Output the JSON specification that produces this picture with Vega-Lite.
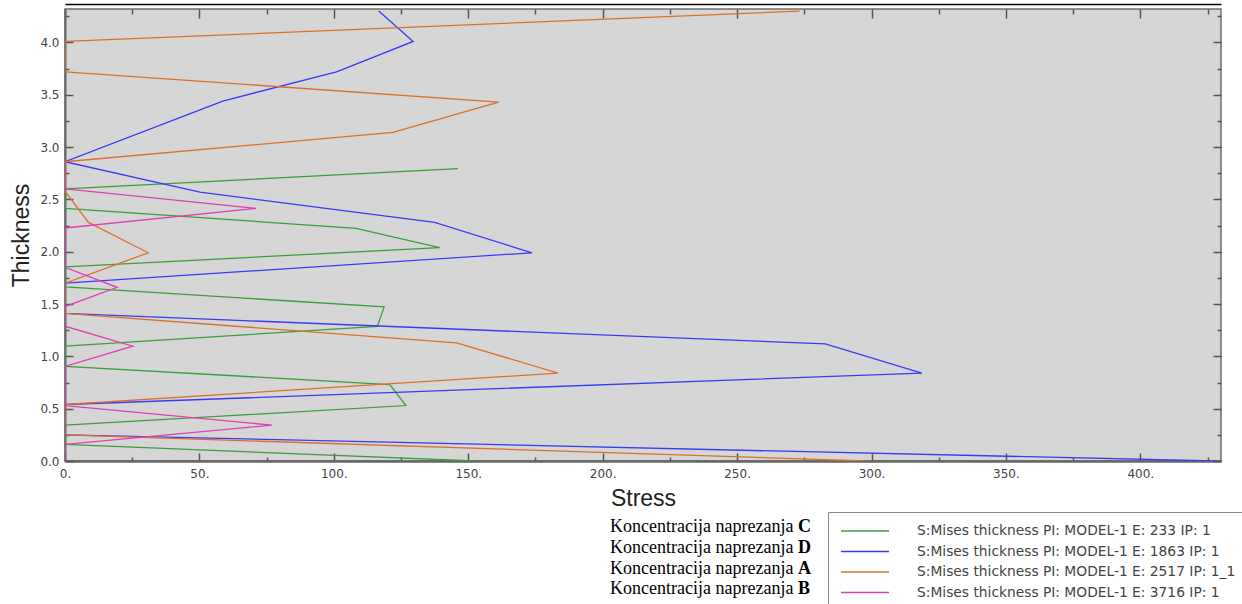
{
  "$schema": "https://vega.github.io/schema/vega-lite/v6.json",
  "autosize": "none",
  "width": 1156,
  "height": 452,
  "padding": {"left": 65, "top": 9, "right": 21, "bottom": 143},
  "background": "white",
  "config": {
    "view": {"fill": "#d6d6d6", "stroke": "#6e6e6e", "strokeWidth": 1.5},
    "axis": {"grid": false}
  },
  "data": {"values": [
    {"series": "S:Mises thickness PI: MODEL-1 E: 233 IP: 1", "concentration": "Koncentracija naprezanja C", "letter": "C", "thickness": 2.794, "stress": 146.2},
    {"series": "S:Mises thickness PI: MODEL-1 E: 233 IP: 1", "concentration": "Koncentracija naprezanja C", "letter": "C", "thickness": 2.60, "stress": 0},
    {"series": "S:Mises thickness PI: MODEL-1 E: 233 IP: 1", "concentration": "Koncentracija naprezanja C", "letter": "C", "thickness": 2.415, "stress": 0},
    {"series": "S:Mises thickness PI: MODEL-1 E: 233 IP: 1", "concentration": "Koncentracija naprezanja C", "letter": "C", "thickness": 2.224, "stress": 108.2},
    {"series": "S:Mises thickness PI: MODEL-1 E: 233 IP: 1", "concentration": "Koncentracija naprezanja C", "letter": "C", "thickness": 2.04, "stress": 139.4},
    {"series": "S:Mises thickness PI: MODEL-1 E: 233 IP: 1", "concentration": "Koncentracija naprezanja C", "letter": "C", "thickness": 1.855, "stress": 0},
    {"series": "S:Mises thickness PI: MODEL-1 E: 233 IP: 1", "concentration": "Koncentracija naprezanja C", "letter": "C", "thickness": 1.664, "stress": 0},
    {"series": "S:Mises thickness PI: MODEL-1 E: 233 IP: 1", "concentration": "Koncentracija naprezanja C", "letter": "C", "thickness": 1.473, "stress": 118.7},
    {"series": "S:Mises thickness PI: MODEL-1 E: 233 IP: 1", "concentration": "Koncentracija naprezanja C", "letter": "C", "thickness": 1.287, "stress": 116.2},
    {"series": "S:Mises thickness PI: MODEL-1 E: 233 IP: 1", "concentration": "Koncentracija naprezanja C", "letter": "C", "thickness": 1.097, "stress": 0},
    {"series": "S:Mises thickness PI: MODEL-1 E: 233 IP: 1", "concentration": "Koncentracija naprezanja C", "letter": "C", "thickness": 0.905, "stress": 0},
    {"series": "S:Mises thickness PI: MODEL-1 E: 233 IP: 1", "concentration": "Koncentracija naprezanja C", "letter": "C", "thickness": 0.731, "stress": 120.8},
    {"series": "S:Mises thickness PI: MODEL-1 E: 233 IP: 1", "concentration": "Koncentracija naprezanja C", "letter": "C", "thickness": 0.53, "stress": 126.8},
    {"series": "S:Mises thickness PI: MODEL-1 E: 233 IP: 1", "concentration": "Koncentracija naprezanja C", "letter": "C", "thickness": 0.342, "stress": 0},
    {"series": "S:Mises thickness PI: MODEL-1 E: 233 IP: 1", "concentration": "Koncentracija naprezanja C", "letter": "C", "thickness": 0.158, "stress": 0},
    {"series": "S:Mises thickness PI: MODEL-1 E: 233 IP: 1", "concentration": "Koncentracija naprezanja C", "letter": "C", "thickness": 0, "stress": 152.5},

    {"series": "S:Mises thickness PI: MODEL-1 E: 1863 IP: 1", "concentration": "Koncentracija naprezanja D", "letter": "D", "thickness": 4.30, "stress": 116.7},
    {"series": "S:Mises thickness PI: MODEL-1 E: 1863 IP: 1", "concentration": "Koncentracija naprezanja D", "letter": "D", "thickness": 4.01, "stress": 129.5},
    {"series": "S:Mises thickness PI: MODEL-1 E: 1863 IP: 1", "concentration": "Koncentracija naprezanja D", "letter": "D", "thickness": 3.72, "stress": 101},
    {"series": "S:Mises thickness PI: MODEL-1 E: 1863 IP: 1", "concentration": "Koncentracija naprezanja D", "letter": "D", "thickness": 3.44, "stress": 58.7},
    {"series": "S:Mises thickness PI: MODEL-1 E: 1863 IP: 1", "concentration": "Koncentracija naprezanja D", "letter": "D", "thickness": 2.86, "stress": 0},
    {"series": "S:Mises thickness PI: MODEL-1 E: 1863 IP: 1", "concentration": "Koncentracija naprezanja D", "letter": "D", "thickness": 2.57, "stress": 50.2},
    {"series": "S:Mises thickness PI: MODEL-1 E: 1863 IP: 1", "concentration": "Koncentracija naprezanja D", "letter": "D", "thickness": 2.28, "stress": 137.5},
    {"series": "S:Mises thickness PI: MODEL-1 E: 1863 IP: 1", "concentration": "Koncentracija naprezanja D", "letter": "D", "thickness": 1.99, "stress": 173.7},
    {"series": "S:Mises thickness PI: MODEL-1 E: 1863 IP: 1", "concentration": "Koncentracija naprezanja D", "letter": "D", "thickness": 1.70, "stress": 0},
    {"series": "S:Mises thickness PI: MODEL-1 E: 1863 IP: 1", "concentration": "Koncentracija naprezanja D", "letter": "D", "thickness": 1.41, "stress": 0},
    {"series": "S:Mises thickness PI: MODEL-1 E: 1863 IP: 1", "concentration": "Koncentracija naprezanja D", "letter": "D", "thickness": 1.12, "stress": 282.8},
    {"series": "S:Mises thickness PI: MODEL-1 E: 1863 IP: 1", "concentration": "Koncentracija naprezanja D", "letter": "D", "thickness": 0.84, "stress": 318.7},
    {"series": "S:Mises thickness PI: MODEL-1 E: 1863 IP: 1", "concentration": "Koncentracija naprezanja D", "letter": "D", "thickness": 0.54, "stress": 0},
    {"series": "S:Mises thickness PI: MODEL-1 E: 1863 IP: 1", "concentration": "Koncentracija naprezanja D", "letter": "D", "thickness": 0.25, "stress": 0},
    {"series": "S:Mises thickness PI: MODEL-1 E: 1863 IP: 1", "concentration": "Koncentracija naprezanja D", "letter": "D", "thickness": 0, "stress": 428},

    {"series": "S:Mises thickness PI: MODEL-1 E: 2517 IP: 1_1", "concentration": "Koncentracija naprezanja A", "letter": "A", "thickness": 4.30, "stress": 273.2},
    {"series": "S:Mises thickness PI: MODEL-1 E: 2517 IP: 1_1", "concentration": "Koncentracija naprezanja A", "letter": "A", "thickness": 4.01, "stress": 0},
    {"series": "S:Mises thickness PI: MODEL-1 E: 2517 IP: 1_1", "concentration": "Koncentracija naprezanja A", "letter": "A", "thickness": 3.72, "stress": 0},
    {"series": "S:Mises thickness PI: MODEL-1 E: 2517 IP: 1_1", "concentration": "Koncentracija naprezanja A", "letter": "A", "thickness": 3.43, "stress": 161.3},
    {"series": "S:Mises thickness PI: MODEL-1 E: 2517 IP: 1_1", "concentration": "Koncentracija naprezanja A", "letter": "A", "thickness": 3.14, "stress": 122},
    {"series": "S:Mises thickness PI: MODEL-1 E: 2517 IP: 1_1", "concentration": "Koncentracija naprezanja A", "letter": "A", "thickness": 2.86, "stress": 0},
    {"series": "S:Mises thickness PI: MODEL-1 E: 2517 IP: 1_1", "concentration": "Koncentracija naprezanja A", "letter": "A", "thickness": 2.58, "stress": 0},
    {"series": "S:Mises thickness PI: MODEL-1 E: 2517 IP: 1_1", "concentration": "Koncentracija naprezanja A", "letter": "A", "thickness": 2.28, "stress": 8.7},
    {"series": "S:Mises thickness PI: MODEL-1 E: 2517 IP: 1_1", "concentration": "Koncentracija naprezanja A", "letter": "A", "thickness": 1.99, "stress": 31},
    {"series": "S:Mises thickness PI: MODEL-1 E: 2517 IP: 1_1", "concentration": "Koncentracija naprezanja A", "letter": "A", "thickness": 1.70, "stress": 0},
    {"series": "S:Mises thickness PI: MODEL-1 E: 2517 IP: 1_1", "concentration": "Koncentracija naprezanja A", "letter": "A", "thickness": 1.41, "stress": 0},
    {"series": "S:Mises thickness PI: MODEL-1 E: 2517 IP: 1_1", "concentration": "Koncentracija naprezanja A", "letter": "A", "thickness": 1.13, "stress": 145.6},
    {"series": "S:Mises thickness PI: MODEL-1 E: 2517 IP: 1_1", "concentration": "Koncentracija naprezanja A", "letter": "A", "thickness": 0.84, "stress": 183.4},
    {"series": "S:Mises thickness PI: MODEL-1 E: 2517 IP: 1_1", "concentration": "Koncentracija naprezanja A", "letter": "A", "thickness": 0.54, "stress": 0},
    {"series": "S:Mises thickness PI: MODEL-1 E: 2517 IP: 1_1", "concentration": "Koncentracija naprezanja A", "letter": "A", "thickness": 0.25, "stress": 0},
    {"series": "S:Mises thickness PI: MODEL-1 E: 2517 IP: 1_1", "concentration": "Koncentracija naprezanja A", "letter": "A", "thickness": 0, "stress": 297.7},

    {"series": "S:Mises thickness PI: MODEL-1 E: 3716 IP: 1", "concentration": "Koncentracija naprezanja B", "letter": "B", "thickness": 2.794, "stress": 0},
    {"series": "S:Mises thickness PI: MODEL-1 E: 3716 IP: 1", "concentration": "Koncentracija naprezanja B", "letter": "B", "thickness": 2.60, "stress": 0},
    {"series": "S:Mises thickness PI: MODEL-1 E: 3716 IP: 1", "concentration": "Koncentracija naprezanja B", "letter": "B", "thickness": 2.415, "stress": 71},
    {"series": "S:Mises thickness PI: MODEL-1 E: 3716 IP: 1", "concentration": "Koncentracija naprezanja B", "letter": "B", "thickness": 2.227, "stress": 0},
    {"series": "S:Mises thickness PI: MODEL-1 E: 3716 IP: 1", "concentration": "Koncentracija naprezanja B", "letter": "B", "thickness": 2.04, "stress": 0},
    {"series": "S:Mises thickness PI: MODEL-1 E: 3716 IP: 1", "concentration": "Koncentracija naprezanja B", "letter": "B", "thickness": 1.851, "stress": 0},
    {"series": "S:Mises thickness PI: MODEL-1 E: 3716 IP: 1", "concentration": "Koncentracija naprezanja B", "letter": "B", "thickness": 1.66, "stress": 19.4},
    {"series": "S:Mises thickness PI: MODEL-1 E: 3716 IP: 1", "concentration": "Koncentracija naprezanja B", "letter": "B", "thickness": 1.476, "stress": 0},
    {"series": "S:Mises thickness PI: MODEL-1 E: 3716 IP: 1", "concentration": "Koncentracija naprezanja B", "letter": "B", "thickness": 1.288, "stress": 0},
    {"series": "S:Mises thickness PI: MODEL-1 E: 3716 IP: 1", "concentration": "Koncentracija naprezanja B", "letter": "B", "thickness": 1.097, "stress": 25.2},
    {"series": "S:Mises thickness PI: MODEL-1 E: 3716 IP: 1", "concentration": "Koncentracija naprezanja B", "letter": "B", "thickness": 0.905, "stress": 0},
    {"series": "S:Mises thickness PI: MODEL-1 E: 3716 IP: 1", "concentration": "Koncentracija naprezanja B", "letter": "B", "thickness": 0.731, "stress": 0},
    {"series": "S:Mises thickness PI: MODEL-1 E: 3716 IP: 1", "concentration": "Koncentracija naprezanja B", "letter": "B", "thickness": 0.53, "stress": 0},
    {"series": "S:Mises thickness PI: MODEL-1 E: 3716 IP: 1", "concentration": "Koncentracija naprezanja B", "letter": "B", "thickness": 0.342, "stress": 77},
    {"series": "S:Mises thickness PI: MODEL-1 E: 3716 IP: 1", "concentration": "Koncentracija naprezanja B", "letter": "B", "thickness": 0.158, "stress": 0},
    {"series": "S:Mises thickness PI: MODEL-1 E: 3716 IP: 1", "concentration": "Koncentracija naprezanja B", "letter": "B", "thickness": 0, "stress": 0}
  ]},
  "resolve": {"axis": {"x": "independent", "y": "independent"}},
  "layer": [
    {
      "mark": {"type": "line", "strokeWidth": 1.3, "clip": true},
      "encoding": {
        "x": {
          "field": "stress", "type": "quantitative",
          "scale": {"domain": [0, 430], "nice": false, "zero": false},
          "axis": {
            "orient": "bottom",
            "title": "Stress",
            "values": [0, 25, 50, 75, 100, 125, 150, 175, 200, 225, 250, 275, 300, 325, 350, 375, 400, 425],
            "labelExpr": "datum.value % 50 === 0 ? datum.value + '.' : ''",
            "tickSize": {"condition": {"test": "datum.value % 50 === 0", "value": -8}, "value": -4},
            "tickColor": "#555", "tickWidth": 1.5,
            "domainColor": "#666", "domainWidth": 2.5,
            "labelFont": "DejaVu Sans", "labelFontSize": 12, "labelColor": "#444",
            "labelPadding": 15, "labelFlush": false, "labelOverlap": false,
            "titleFont": "Liberation Sans", "titleFontSize": 23, "titleFontWeight": "normal", "titleColor": "#222",
            "titlePadding": 4
          }
        },
        "y": {
          "field": "thickness", "type": "quantitative",
          "scale": {"domain": [0, 4.32], "nice": false, "zero": false},
          "axis": {
            "orient": "left",
            "title": "Thickness",
            "values": [0, 0.25, 0.5, 0.75, 1, 1.25, 1.5, 1.75, 2, 2.25, 2.5, 2.75, 3, 3.25, 3.5, 3.75, 4, 4.25],
            "labelExpr": "abs(datum.value * 2 - round(datum.value * 2)) < 0.001 ? format(datum.value, '.1f') : ''",
            "tickSize": {"condition": {"test": "abs(datum.value * 2 - round(datum.value * 2)) < 0.001", "value": -8}, "value": -4},
            "tickColor": "#555", "tickWidth": 1.5,
            "domainColor": "#666", "domainWidth": 2,
            "labelFont": "DejaVu Sans", "labelFontSize": 12, "labelColor": "#444",
            "labelPadding": 14, "labelFlush": false, "labelOverlap": false,
            "titleFont": "Liberation Sans", "titleFontSize": 23, "titleFontWeight": "normal", "titleColor": "#222",
            "titlePadding": 6
          }
        },
        "color": {
          "field": "series", "type": "nominal",
          "scale": {
            "domain": ["S:Mises thickness PI: MODEL-1 E: 233 IP: 1", "S:Mises thickness PI: MODEL-1 E: 1863 IP: 1", "S:Mises thickness PI: MODEL-1 E: 2517 IP: 1_1", "S:Mises thickness PI: MODEL-1 E: 3716 IP: 1"],
            "range": ["#3c9e3c", "#3a3af5", "#db702e", "#e040b4"]
          },
          "legend": {
            "orient": "none", "legendX": 763, "legendY": 503,
            "title": null,
            "symbolType": "M-1,0H7", "symbolSize": 144, "symbolStrokeWidth": 1.5,
            "labelFont": "DejaVu Sans", "labelFontSize": 13.8, "labelColor": "#444", "labelLimit": 600,
            "labelOffset": 63, "rowPadding": 6.5, "padding": 12,
            "strokeColor": "#888", "fillColor": "white"
          }
        },
        "order": {"field": "thickness", "type": "quantitative"}
      }
    },
    {
      "mark": {"type": "point", "opacity": 0},
      "encoding": {
        "x": {
          "field": "stress", "type": "quantitative",
          "scale": {"domain": [0, 430], "nice": false, "zero": false},
          "axis": {
            "orient": "top", "title": null, "labels": false, "domain": false,
            "values": [0, 25, 50, 75, 100, 125, 150, 175, 200, 225, 250, 275, 300, 325, 350, 375, 400, 425],
            "tickSize": {"condition": {"test": "datum.value % 50 === 0", "value": -9}, "value": -5},
            "tickColor": "#555", "tickWidth": 1.5
          }
        },
        "y": {
          "field": "thickness", "type": "quantitative",
          "scale": {"domain": [0, 4.32], "nice": false, "zero": false},
          "axis": {
            "orient": "right", "title": null, "labels": false, "domain": false,
            "values": [0, 0.25, 0.5, 0.75, 1, 1.25, 1.5, 1.75, 2, 2.25, 2.5, 2.75, 3, 3.25, 3.5, 3.75, 4, 4.25],
            "tickSize": {"condition": {"test": "abs(datum.value * 2 - round(datum.value * 2)) < 0.001", "value": -8}, "value": -4},
            "tickColor": "#555", "tickWidth": 1.5
          }
        },
        "shape": {
          "field": "concentration", "type": "nominal",
          "scale": {"domain": ["Koncentracija naprezanja C", "Koncentracija naprezanja D", "Koncentracija naprezanja A", "Koncentracija naprezanja B"]},
          "legend": {
            "orient": "none", "legendX": 527, "legendY": 509,
            "title": null, "padding": 0,
            "symbolOpacity": 0, "symbolSize": 1, "symbolStrokeWidth": 0,
            "labelExpr": "slice(datum.label, 0, -1)",
            "labelFont": "Liberation Serif", "labelFontSize": 18, "labelColor": "#000", "labelLimit": 400,
            "labelOffset": 0, "rowPadding": 2.8
          }
        },
        "fill": {
          "field": "letter", "type": "nominal",
          "scale": {"domain": ["C", "D", "A", "B"], "range": ["#000", "#000", "#000", "#000"]},
          "legend": {
            "orient": "none", "legendX": 715, "legendY": 509,
            "title": null, "padding": 0,
            "symbolOpacity": 0, "symbolSize": 1, "symbolStrokeWidth": 0,
            "labelFont": "Liberation Serif", "labelFontSize": 18, "labelFontWeight": "bold", "labelColor": "#000",
            "labelOffset": 0, "rowPadding": 2.8
          }
        }
      }
    },
    {
      "mark": {"type": "point", "opacity": 0},
      "encoding": {
        "x": {
          "field": "stress", "type": "quantitative",
          "scale": {"domain": [0, 430], "nice": false, "zero": false},
          "axis": {
            "orient": "top", "title": null, "labels": false, "ticks": false,
            "offset": 5, "domainColor": "#000", "domainWidth": 1.5
          }
        },
        "y": {
          "field": "thickness", "type": "quantitative",
          "scale": {"domain": [0, 4.32], "nice": false, "zero": false},
          "axis": null
        }
      }
    }
  ]
}
